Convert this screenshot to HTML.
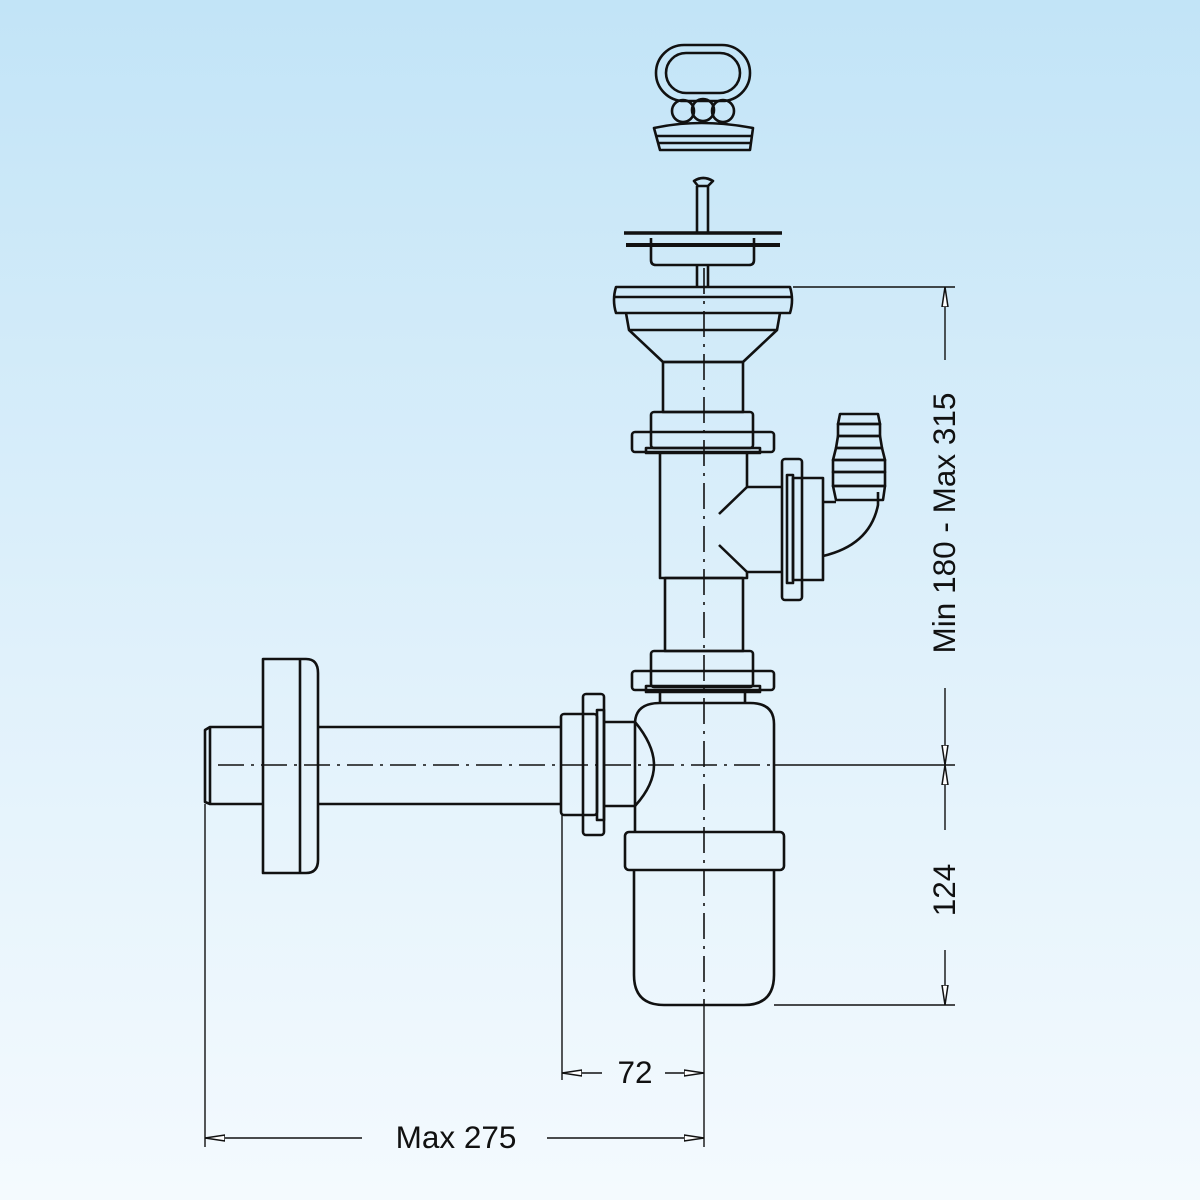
<!DOCTYPE html>
<html><head><meta charset="utf-8"><style>
html,body{margin:0;padding:0}
body{width:1200px;height:1200px;background:linear-gradient(#c2e4f7,#e0f1fb 55%,#f4fafe);overflow:hidden}
svg{display:block}
text{font-family:"Liberation Sans",sans-serif;font-size:31.5px;fill:#111}
</style></head><body>
<svg width="1200" height="1200" viewBox="0 0 1200 1200" xmlns="http://www.w3.org/2000/svg">
<defs>
<marker id="a" viewBox="0 0 20 10" refX="20" refY="5" markerWidth="20" markerHeight="10" markerUnits="userSpaceOnUse" orient="auto">
<path d="M0,2 L20,5 L0,8 Z" fill="#fff" stroke="#111" stroke-width="1.5"/></marker>
</defs>
<g fill="none" stroke="#111" stroke-width="2.6" stroke-linejoin="round">
<rect x="656" y="45" width="94" height="56" rx="28"/>
<rect x="666" y="53" width="74" height="40" rx="20"/>
<circle cx="683" cy="111" r="11"/><circle cx="703" cy="110" r="11"/><circle cx="723" cy="111" r="11"/>
<path d="M654,128 Q700,118 753,128 L750,150 L660,150 Z"/>
<line x1="656" y1="136" x2="751" y2="136"/><line x1="658" y1="143" x2="750" y2="143"/>
<path d="M694,181 Q703,175 713,181 L708,186 L698,186 Z"/>
<line x1="697" y1="186" x2="697" y2="233"/><line x1="708" y1="186" x2="708" y2="233"/>
<line x1="624" y1="233" x2="782" y2="233" stroke-width="3.5"/>
<line x1="626" y1="245" x2="780" y2="245" stroke-width="4"/>
<path d="M651,238 L651,260 Q651,265 656,265 L749,265 Q754,265 754,260 L754,238"/>
<line x1="697" y1="265" x2="697" y2="287"/><line x1="708" y1="265" x2="708" y2="287"/>
<path d="M616,287 L790,287 Q794,300 790,313 L616,313 Q612,300 616,287 Z"/>
<line x1="614" y1="297" x2="792" y2="297"/>
<path d="M626,313 L629,330 L663,362 L743,362 L777,330 L780,313"/>
<line x1="629" y1="330" x2="777" y2="330"/>
<rect x="663" y="362" width="80" height="50"/>
<rect x="651" y="412" width="102" height="36" rx="3"/>
<rect x="632" y="432" width="142" height="20" rx="3"/>
<rect x="646" y="448" width="114" height="5"/>
<path d="M660,453 L660,578 L747,578 L747,572 L782,572 M782,487 L747,487 L747,453"/>
<line x1="747" y1="487" x2="719" y2="514"/><line x1="719" y1="545" x2="747" y2="572"/>
<rect x="782" y="459" width="20" height="141" rx="3"/>
<rect x="787" y="475" width="6" height="108"/>
<rect x="793" y="478" width="30" height="102"/>
<path d="M823,502 L836,502 M823,556 Q870,545 878,505 L878,492"/>
<g>
<path d="M840,414 L878,414 L880,424 L838,424 Z"/>
<path d="M838,424 L880,424 L880,436 L838,436 Z"/>
<path d="M838,436 L880,436 L882,448 L836,448 Z"/>
<path d="M836,448 L882,448 L885,460 L833,460 Z"/>
<path d="M833,460 L885,460 L885,472 L833,472 Z"/>
<path d="M833,472 L885,472 L885,486 L833,486 Z"/>
<path d="M833,486 L885,486 L883,500 L836,500 Z"/>
</g>
<rect x="665" y="578" width="78" height="73"/>
<rect x="651" y="651" width="102" height="36" rx="3"/>
<rect x="632" y="671" width="142" height="19" rx="3"/>
<rect x="646" y="686" width="114" height="6"/>
<line x1="660" y1="692" x2="660" y2="704"/><line x1="745" y1="692" x2="745" y2="704"/>
<path d="M635,832 L635,724 Q635,703 660,703 L750,703 Q774,703 774,724 L774,832"/>
<rect x="625" y="832" width="159" height="38" rx="4"/>
<path d="M634,870 L634,975 Q634,1005 664,1005 L744,1005 Q774,1005 774,975 L774,870"/>
<path d="M604,722 L635,722 Q654,745 654,765 Q654,785 635,806 L604,806"/>
<rect x="583" y="694" width="21" height="141" rx="3"/>
<rect x="597" y="710" width="7" height="110"/>
<rect x="561" y="714" width="36" height="101" rx="3"/>
<line x1="318" y1="727" x2="561" y2="727"/><line x1="318" y1="804" x2="561" y2="804"/>
<path d="M263,727 L210,727 L205,730 L205,802 L210,804 L263,804"/>
<line x1="210" y1="727" x2="210" y2="804"/>
<path d="M263,659 L306,659 Q318,659 318,673 L318,860 Q318,873 306,873 L263,873 Z"/>
<line x1="300" y1="659" x2="300" y2="873"/>
</g>
<g stroke="#111" stroke-width="1.6" fill="none" stroke-dasharray="26,7,3,7">
<line x1="704" y1="268" x2="704" y2="1005"/>
<line x1="218" y1="765" x2="775" y2="765"/>
</g>
<g stroke="#111" stroke-width="1.4" fill="none">
<line x1="793" y1="287" x2="955" y2="287"/>
<line x1="775" y1="765" x2="955" y2="765"/>
<line x1="774" y1="1005" x2="955" y2="1005"/>
<line x1="945" y1="360" x2="945" y2="287" marker-end="url(#a)"/>
<line x1="945" y1="688" x2="945" y2="765" marker-end="url(#a)"/>
<line x1="945" y1="830" x2="945" y2="765" marker-end="url(#a)"/>
<line x1="945" y1="950" x2="945" y2="1005" marker-end="url(#a)"/>
<line x1="205" y1="804" x2="205" y2="1147"/>
<line x1="562" y1="815" x2="562" y2="1080"/>
<line x1="704" y1="1005" x2="704" y2="1147"/>
<line x1="602" y1="1073" x2="562" y2="1073" marker-end="url(#a)"/>
<line x1="665" y1="1073" x2="704" y2="1073" marker-end="url(#a)"/>
<line x1="362" y1="1138" x2="205" y2="1138" marker-end="url(#a)"/>
<line x1="547" y1="1138" x2="704" y2="1138" marker-end="url(#a)"/>
</g>
<text x="635" y="1083" text-anchor="middle">72</text>
<text x="456" y="1148" text-anchor="middle">Max 275</text>
<text transform="translate(955,523) rotate(-90)" text-anchor="middle">Min 180 - Max 315</text>
<text transform="translate(955,890) rotate(-90)" text-anchor="middle">124</text>
</svg>
</body></html>
